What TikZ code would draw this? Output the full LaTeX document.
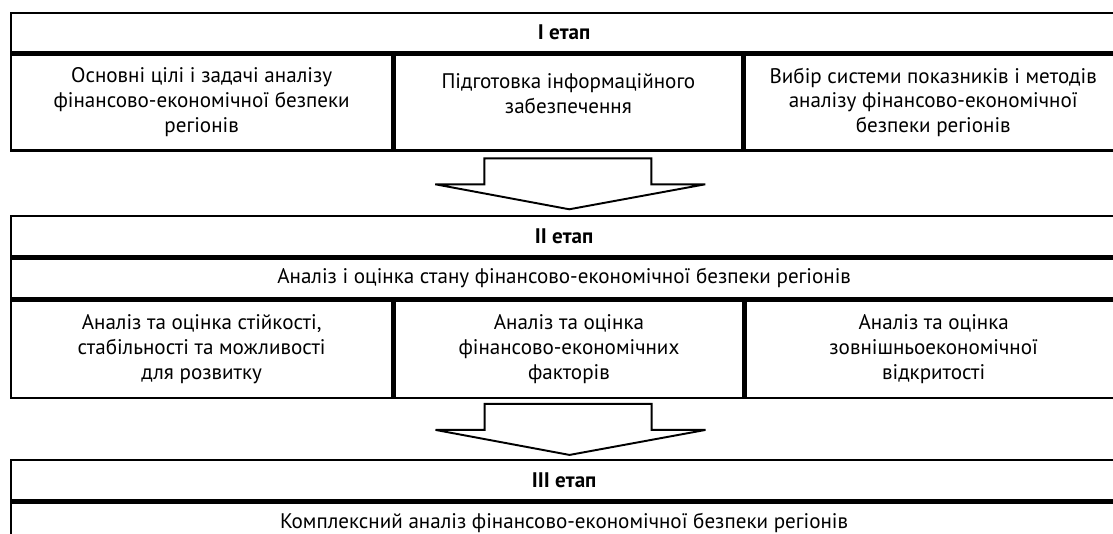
\documentclass[tikz,border=0pt]{standalone}
\usepackage{fontspec}
\setmainfont{PT Sans}
\usetikzlibrary{calc}

\tikzset{
  cellbox/.style 2 args={draw, line width=1.3pt, anchor=north west, inner sep=0pt,
    align=center, minimum width=#1*0.02cm, minimum height=#2*0.02cm},
  bigarrow/.style={draw, line width=1.1pt, fill=white, line join=miter},
}

\begin{document}
\begin{tikzpicture}[x=0.02cm, y=-0.02cm, font=\fontsize{12}{14.2}\selectfont]
    \useasboundingbox (0,0) rectangle (1113,534);
    \clip (0,0) rectangle (1113,534);
    % I etap
    \node[cellbox={1106}{39}] (h1) at (10,12) {\textbf{I етап}};
    \node[cellbox={381}{96}] (c11) at (h1.south west) {Основні цілі і задачі аналізу\\фінансово-економічної безпеки\\регіонів};
    \node[cellbox={348}{96}] (c12) at (c11.north east) {Підготовка інформаційного\\забезпечення\\[-4.5pt]\mbox{}};
    \node[cellbox={377}{96}] (c13) at (c12.north east) {Вибір системи показників і методів\\аналізу фінансово-економічної\\безпеки регіонів};
    % II etap
    \node[cellbox={1106}{40}] (h2) at (10,215) {\textbf{II етап}};
    \node[cellbox={1106}{40}] (s2) at (h2.south west) {Аналіз і оцінка стану фінансово-економічної безпеки регіонів};
    \node[cellbox={381}{97}] (c21) at (s2.south west) {Аналіз та оцінка стійкості,\\стабільності та можливості\\для розвитку};
    \node[cellbox={349}{97}] (c22) at (c21.north east) {Аналіз та оцінка\\фінансово-економічних\\факторів};
    \node[cellbox={376}{97}] (c23) at (c22.north east) {Аналіз та оцінка\\зовнішньоекономічної\\відкритості};
    % III etap
    \node[cellbox={1106}{40}] (h3) at (10,459) {\textbf{III етап}};
    \node[cellbox={1106}{41}] (s3) at (h3.south west) {Комплексний аналіз фінансово-економічної безпеки регіонів};
    % arrows
    \coordinate (a1) at ($(c12.south)!0.5!(h2.north)$);
    \coordinate (a2) at ($(c22.south)!0.5!(h3.north)$);
    \draw[bigarrow] ($(a1)+(-82,-25)$) -- ($(a1)+(85,-25)$) -- ($(a1)+(85,1)$) -- ($(a1)+(139,1)$)
        -- ($(a1)+(3,26)$) -- ($(a1)+(-131,1)$) -- ($(a1)+(-82,1)$) -- cycle;
    \draw[bigarrow] ($(a2)+(-82,-25)$) -- ($(a2)+(85,-25)$) -- ($(a2)+(85,1)$) -- ($(a2)+(139,1)$)
        -- ($(a2)+(3,26)$) -- ($(a2)+(-131,1)$) -- ($(a2)+(-82,1)$) -- cycle;
\end{tikzpicture}
\end{document}
